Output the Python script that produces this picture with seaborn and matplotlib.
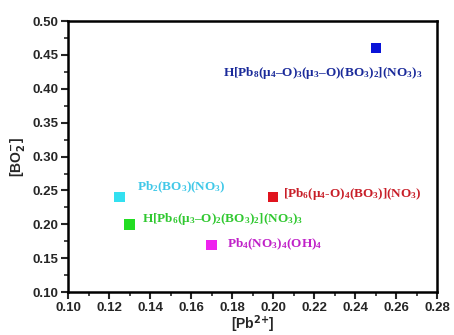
import matplotlib
matplotlib.use("Agg")
import matplotlib.pyplot as plt
import seaborn as sns
import pandas as pd
from matplotlib.ticker import MultipleLocator, FormatStrFormatter

sns.set_style("white")
plt.rcParams['font.family'] = ['Liberation Sans', 'DejaVu Sans']
plt.rcParams['mathtext.fontset'] = 'custom'
plt.rcParams['mathtext.rm'] = 'Liberation Serif:bold'
plt.rcParams['mathtext.it'] = 'Liberation Serif:bold'
plt.rcParams['mathtext.bf'] = 'Liberation Serif:bold'
plt.rcParams['mathtext.default'] = 'regular'

compounds = [
    "H[Pb$_8$(μ$_4$–O)$_3$(μ$_3$–O)(BO$_3$)$_2$](NO$_3$)$_3$",
    "Pb$_2$(BO$_3$)(NO$_3$)",
    "[Pb$_6$(μ$_4$-O)$_4$(BO$_3$)](NO$_3$)",
    "H[Pb$_6$(μ$_3$–O)$_2$(BO$_3$)$_2$](NO$_3$)$_3$",
    "Pb$_4$(NO$_3$)$_4$(OH)$_4$",
]
pb = [0.25, 0.125, 0.20, 0.13, 0.17]
bo2 = [0.46, 0.24, 0.24, 0.20, 0.17]
colors = ["#0a14d8", "#33e0f0", "#e0141e", "#22dd22", "#ee22ee"]
text_colors = ["#1a2a9a", "#40c8e8", "#c81e28", "#30c830", "#c020c8"]
# label offsets in points (dx, dy, ha)
offsets = [(-38, -18, 'center'), (13, 7, 'left'), (7, 2, 'left'), (9, 4, 'left'), (11, 0, 'left')]

df = pd.DataFrame({"compound": compounds, "pb": pb, "bo2": bo2})

fig, ax = plt.subplots(figsize=(4.54, 3.35), dpi=100)
fig.subplots_adjust(left=0.15, right=0.963, top=0.937, bottom=0.128)

sns.scatterplot(data=df, x="pb", y="bo2", hue="compound", palette=colors,
                marker='s', s=55, edgecolor='none', legend=False, ax=ax)

for name, x, y, c, (dx, dy, ha) in zip(compounds, pb, bo2, text_colors, offsets):
    ax.annotate(name, (x, y), xytext=(dx, dy), textcoords='offset points',
                ha=ha, va='center', color=c, fontsize=9.5,
                fontfamily='Liberation Serif', fontweight='bold')

ax.set_xlim(0.10, 0.28)
ax.set_ylim(0.10, 0.50)
ax.xaxis.set_major_locator(MultipleLocator(0.02))
ax.xaxis.set_minor_locator(MultipleLocator(0.01))
ax.yaxis.set_major_locator(MultipleLocator(0.05))
ax.yaxis.set_minor_locator(MultipleLocator(0.025))
ax.xaxis.set_major_formatter(FormatStrFormatter('%.2f'))
ax.yaxis.set_major_formatter(FormatStrFormatter('%.2f'))

for s in ax.spines.values():
    s.set_linewidth(1.8)
    s.set_color('black')
ax.tick_params(axis='both', which='major', direction='out', length=5, width=1.5,
               labelsize=9.5, bottom=True, left=True, top=False, right=False, pad=2)
ax.tick_params(axis='both', which='minor', direction='out', length=3, width=1.2,
               bottom=True, left=True, top=False, right=False)
for lab in ax.get_xticklabels() + ax.get_yticklabels():
    lab.set_fontweight('bold')

ax.set_xlabel(r"[Pb$^{\mathbf{2{+}}}$]", fontsize=10, fontweight='bold', labelpad=0,
              math_fontfamily='dejavusans')
ax.set_ylabel(r"[BO$_{\mathbf{2}}^{\mathbf{-}}$]", fontsize=10, fontweight='bold', labelpad=4,
              math_fontfamily='dejavusans')

fig.savefig("out.png", dpi=100)
